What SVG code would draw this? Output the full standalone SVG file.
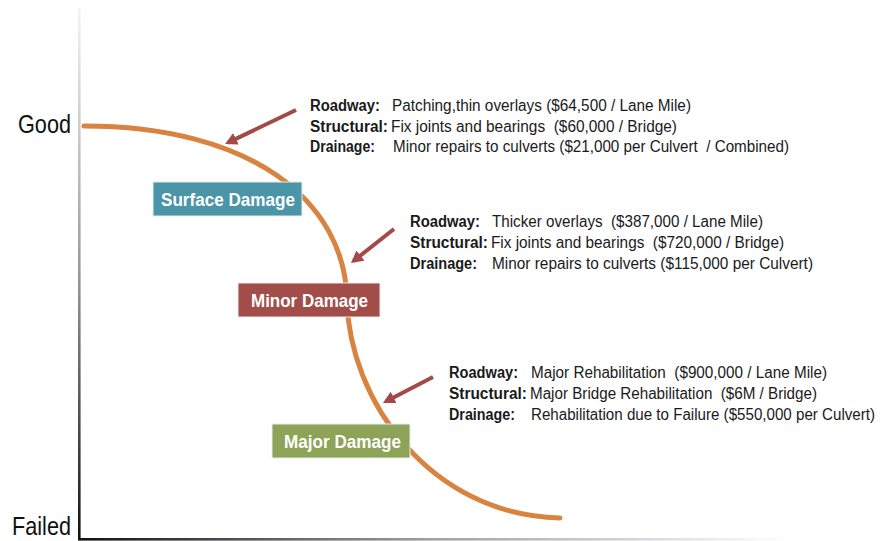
<svg xmlns="http://www.w3.org/2000/svg" width="880" height="541" viewBox="0 0 880 541">
<style>
text{font-family:"Liberation Sans",Arial,sans-serif}
.axis-lbl{font-size:26px;fill:#111}
.box-lbl{font-size:18.5px;font-weight:bold;fill:#fff}
.info text{font-size:16px;fill:#1a1a1a}
.info .k{font-weight:bold}
.arrow{stroke:#A34A48;stroke-width:4;fill:none;marker-end:url(#ah)}
.curve{stroke:#D8833F;stroke-width:5;fill:none;stroke-linecap:round}
.box{stroke:#e8eef0;stroke-width:1}
</style>
<defs>
<linearGradient id="gy" x1="0" y1="0" x2="0" y2="1">
<stop offset="0" stop-color="#f4f4f4"/>
<stop offset="0.5" stop-color="#999"/>
<stop offset="1" stop-color="#111"/>
</linearGradient>
<linearGradient id="gx" x1="0" y1="0" x2="1" y2="0">
<stop offset="0" stop-color="#111"/>
<stop offset="0.5" stop-color="#a0a0a8"/>
<stop offset="1" stop-color="#fff"/>
</linearGradient>
<marker id="ah" markerWidth="4" markerHeight="4" refX="2.2" refY="1.6" orient="auto" markerUnits="strokeWidth">
<path d="M0,0 L3,1.6 L0,3.2 Z" fill="#A34A48"/>
</marker>
</defs>
<rect width="880" height="541" fill="#fff"/>
<g id="axes">
<rect x="78" y="8" width="2.6" height="532" fill="url(#gy)"/>
<rect x="78" y="538" width="710" height="2.6" fill="url(#gx)"/>
<text class="axis-lbl" x="18" y="133" textLength="53" lengthAdjust="spacingAndGlyphs">Good</text>
<text class="axis-lbl" x="12" y="535" textLength="59" lengthAdjust="spacingAndGlyphs">Failed</text>
</g>
<g id="connectors">
<path class="curve" d="M84,126 C250,126 345,200 347,300 C349,400 430,515 560,518"/>
<line class="arrow" x1="296" y1="110" x2="228" y2="142.6"/>
<line class="arrow" x1="394" y1="229" x2="353.5" y2="261"/>
<line class="arrow" x1="433" y1="377" x2="385.8" y2="401.5"/>
</g>
<g id="surface-damage">
<rect class="box" x="153" y="182" width="149" height="34" fill="#4A95A8"/>
<text class="box-lbl" x="161" y="206" textLength="134" lengthAdjust="spacingAndGlyphs">Surface Damage</text>
</g>
<g id="minor-damage">
<rect class="box" x="238" y="283" width="142" height="34" fill="#A34D4A"/>
<text class="box-lbl" x="251" y="307" textLength="117" lengthAdjust="spacingAndGlyphs">Minor Damage</text>
</g>
<g id="major-damage">
<rect class="box" x="272" y="424" width="138" height="34" fill="#8DA357"/>
<text class="box-lbl" x="284" y="448" textLength="117" lengthAdjust="spacingAndGlyphs">Major Damage</text>
</g>
<g id="surface-info" class="info">
<text class="k" x="310" y="111" textLength="70" lengthAdjust="spacingAndGlyphs">Roadway:</text>
<text x="392" y="111" textLength="299" lengthAdjust="spacingAndGlyphs">Patching,thin overlays ($64,500 / Lane Mile)</text>
<text class="k" x="310" y="132" textLength="78" lengthAdjust="spacingAndGlyphs">Structural:</text>
<text x="391" y="132" textLength="286" lengthAdjust="spacingAndGlyphs" xml:space="preserve">Fix joints and bearings  ($60,000 / Bridge)</text>
<text class="k" x="310" y="152" textLength="65" lengthAdjust="spacingAndGlyphs">Drainage:</text>
<text x="393" y="152" textLength="396" lengthAdjust="spacingAndGlyphs" xml:space="preserve">Minor repairs to culverts ($21,000 per Culvert  / Combined)</text>
</g>
<g id="minor-info" class="info">
<text class="k" x="410" y="227" textLength="70" lengthAdjust="spacingAndGlyphs">Roadway:</text>
<text x="492" y="227" textLength="271" lengthAdjust="spacingAndGlyphs" xml:space="preserve">Thicker overlays  ($387,000 / Lane Mile)</text>
<text class="k" x="410" y="248" textLength="78" lengthAdjust="spacingAndGlyphs">Structural:</text>
<text x="491" y="248" textLength="293" lengthAdjust="spacingAndGlyphs" xml:space="preserve">Fix joints and bearings  ($720,000 / Bridge)</text>
<text class="k" x="410" y="269" textLength="67" lengthAdjust="spacingAndGlyphs">Drainage:</text>
<text x="492" y="269" textLength="321" lengthAdjust="spacingAndGlyphs">Minor repairs to culverts ($115,000 per Culvert)</text>
</g>
<g id="major-info" class="info">
<text class="k" x="449" y="378" textLength="69" lengthAdjust="spacingAndGlyphs">Roadway:</text>
<text x="531" y="378" textLength="296" lengthAdjust="spacingAndGlyphs" xml:space="preserve">Major Rehabilitation  ($900,000 / Lane Mile)</text>
<text class="k" x="449" y="399" textLength="78" lengthAdjust="spacingAndGlyphs">Structural:</text>
<text x="530" y="399" textLength="287" lengthAdjust="spacingAndGlyphs" xml:space="preserve">Major Bridge Rehabilitation  ($6M / Bridge)</text>
<text class="k" x="449" y="420" textLength="66" lengthAdjust="spacingAndGlyphs">Drainage:</text>
<text x="531" y="420" textLength="344" lengthAdjust="spacingAndGlyphs">Rehabilitation due to Failure ($550,000 per Culvert)</text>
</g>
</svg>
